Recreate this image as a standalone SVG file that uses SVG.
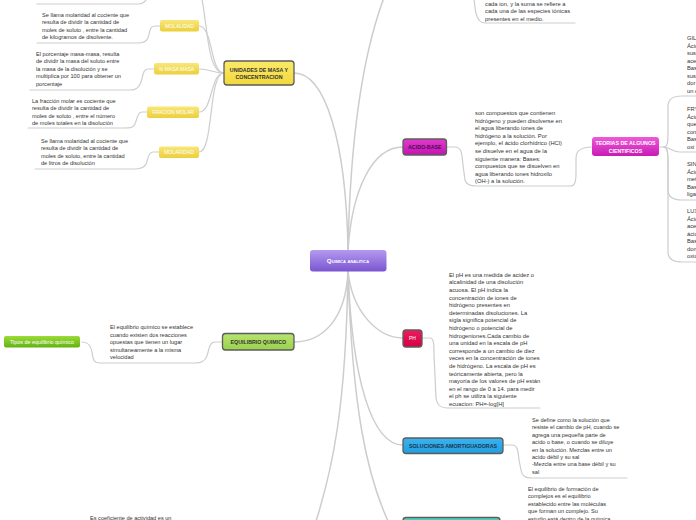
<svg xmlns="http://www.w3.org/2000/svg" width="696" height="520" viewBox="0 0 696 520">
<defs>
<linearGradient id="gPurple" x1="0" y1="0" x2="0" y2="1"><stop offset="0" stop-color="#b49af0"/><stop offset="1" stop-color="#7a55d0"/></linearGradient>
<linearGradient id="gYellow" x1="0" y1="0" x2="0" y2="1"><stop offset="0" stop-color="#fbea6a"/><stop offset="1" stop-color="#f2d83a"/></linearGradient>
<linearGradient id="gYellowSub" x1="0" y1="0" x2="0" y2="1"><stop offset="0" stop-color="#f8e77a"/><stop offset="1" stop-color="#eccf3a"/></linearGradient>
<linearGradient id="gGreen" x1="0" y1="0" x2="0" y2="1"><stop offset="0" stop-color="#b8e370"/><stop offset="1" stop-color="#9ad24c"/></linearGradient>
<linearGradient id="gGreenSub" x1="0" y1="0" x2="0" y2="1"><stop offset="0" stop-color="#9bdc38"/><stop offset="1" stop-color="#62b212"/></linearGradient>
<linearGradient id="gMagenta" x1="0" y1="0" x2="0" y2="1"><stop offset="0" stop-color="#e23acb"/><stop offset="1" stop-color="#c313b0"/></linearGradient>
<linearGradient id="gMagentaSub" x1="0" y1="0" x2="0" y2="1"><stop offset="0" stop-color="#ee5ad8"/><stop offset="1" stop-color="#c81bb4"/></linearGradient>
<linearGradient id="gRed" x1="0" y1="0" x2="0" y2="1"><stop offset="0" stop-color="#ee1c5c"/><stop offset="1" stop-color="#d30046"/></linearGradient>
<linearGradient id="gBlue" x1="0" y1="0" x2="0" y2="1"><stop offset="0" stop-color="#3bb4ee"/><stop offset="1" stop-color="#1f9ee0"/></linearGradient>
<linearGradient id="gTeal" x1="0" y1="0" x2="0" y2="1"><stop offset="0" stop-color="#4fd6c0"/><stop offset="1" stop-color="#2fbea8"/></linearGradient>
</defs>
<style>
.c{fill:none;stroke:#cdcdcd;stroke-width:1.2;stroke-linecap:round}
.cm{fill:none;stroke:#cdcdcd;stroke-width:1.5;stroke-linecap:round}
.main{stroke:#5c5c5c;stroke-width:1.3}
.t{font-family:"Liberation Sans",Arial,sans-serif;font-size:5.6px;fill:#333}
.tr{font-family:"Liberation Sans",Arial,sans-serif;font-size:5.8px;fill:#333}
.nb{font-family:"Liberation Sans",Arial,sans-serif;font-size:5.3px;font-weight:bold;text-anchor:middle}
.ns{font-family:"Liberation Sans",Arial,sans-serif;font-size:5px;fill:#fff;text-anchor:middle}
</style>
<rect width="696" height="520" fill="#fff"/>
<g id="connectors">
<!-- from center -->
<path class="cm" d="M348,250 C346,140 325,73 294,73"/>
<path class="cm" d="M348,250 C350,150 360,60 385,-5"/>
<path class="cm" d="M348,250 C352,190 372,147 403,147"/>
<path class="cm" d="M348,271 C346,320 322,342 294,342"/>
<path class="cm" d="M348,271 C352,312 378,338 403,338"/>
<path class="cm" d="M348,271 C352,380 372,445 403,445"/>
<path class="cm" d="M348,271 C352,400 365,480 395,535"/>
<path class="cm" d="M348,271 C346,400 335,470 308,545"/>
<!-- unidades bundle -->
<path class="c" d="M224,73 C210,73 213,26 199,26"/>
<path class="c" d="M224,73 C206,73 208,20 200,-10"/>
<path class="c" d="M224,73 C212,73 211,69 199,69"/>
<path class="c" d="M224,73 C210,73 213,112 199,112"/>
<path class="c" d="M224,73 C208,73 214,152 199,152"/>
<!-- left text underlines -->
<path class="c" d="M37,4 L138,4 C143,4 146,2 148,-4"/>
<path class="c" d="M160,26 L155,26 C149,26 150,33 148,38 C146,42 143,43 138,43 L37,43"/>
<path class="c" d="M154,69 L148,69 C143,69 143,76 141,82 C139,88 136,90 130,90 L30,90"/>
<path class="c" d="M147,112 L142,112 C137,112 137,120 135,124 C133,128 130,128 124,128 L28,128"/>
<path class="c" d="M159,152 L153,152 C148,152 148,160 146,164 C144,168 140,169 134,169 L35,169"/>
<path class="c" d="M222,342 L215,342 C209,342 209,350 207,356 C205,361 202,363 195,363 L100,363 C94,363 93,360 92,352 C91,345 88,342 82,342"/>
<!-- right side -->
<path class="c" d="M474,-2 C475,10 476,23 485,23 L575,23"/>
<path class="c" d="M446,147 L455,147 C462,147 462,155 463,165 L465,180 C466,184 469,186 476,186 L570,186 C575,186 576,182 576,172 L576,158 C576,150 582,147 592,147"/>
<path class="c" d="M659,147 L664,147 C668,147 668,140 668,130 L668,106 C668,99 673,96 682,96 L700,96"/>
<path class="c" d="M664,147 C669,147 672,152 680,152 L700,152"/>
<path class="c" d="M664,147 C668,147 668,155 668,165 L668,190 C668,197 673,200 682,200 L700,200"/>
<path class="c" d="M664,147 C668,147 668,155 668,170 L668,252 C668,259 673,262 682,262 L700,262"/>
<path class="c" d="M422,338 L430,338 C434,338 434,345 434,355 L436,398 C437,405 440,408 447,408 L540,408"/>
<path class="c" d="M503,445 L512,445 C518,445 518,452 519,460 L521,470 C522,476 525,478 532,478 L627,478"/>
</g>

<g id="center">
<rect x="310" y="250" width="76.5" height="21.5" rx="3" fill="url(#gPurple)"/>
<text x="348" y="263.3" font-family="'Liberation Sans',Arial,sans-serif" font-size="6.2" font-weight="bold" fill="#fff" text-anchor="middle" style="font-variant:small-caps">Quimica analitica</text>
</g>

<g id="unidades">
<rect class="main" x="224" y="61" width="70" height="24" rx="3" fill="url(#gYellow)"/>
<text class="nb" x="259" y="71.5" fill="#333">UNIDADES DE MASA Y</text>
<text class="nb" x="259" y="78.8" fill="#333">CONCENTRACION</text>
</g>

<g id="molalidad">
<rect x="160" y="20" width="39" height="11.5" rx="2" fill="url(#gYellowSub)"/>
<text class="ns" x="179.5" y="27.6">MOLALIDAD</text>
<text class="t" x="42" y="16.5">Se llama molaridad al cociente que</text>
<text class="t" x="42" y="24">resulta de dividir la cantidad de</text>
<text class="t" x="42" y="31.5">moles de soluto , entre la cantidad</text>
<text class="t" x="42" y="39">de kilogramos de disolvente.</text>
</g>

<g id="masamasa">
<rect x="154" y="63" width="45" height="11.5" rx="2" fill="url(#gYellowSub)"/>
<text class="ns" x="176.5" y="70.6">% MASA MASA</text>
<text class="t" x="36" y="55.5">El porcentaje masa-masa, resulta</text>
<text class="t" x="36" y="63">de  dividir la masa del soluto entre</text>
<text class="t" x="36" y="70.5">la masa de la disolución y se</text>
<text class="t" x="36" y="78">multiplica por 100 para obtener un</text>
<text class="t" x="36" y="85.5">porcentaje</text>
</g>

<g id="fraccion">
<rect x="147" y="106.5" width="52" height="11.5" rx="2" fill="url(#gYellowSub)"/>
<text class="ns" x="173" y="114.1">FRACION MOLAR</text>
<text class="t" x="32" y="102.5">La fracción molar es cociente que</text>
<text class="t" x="32" y="110">resulta de dividir la cantidad de</text>
<text class="t" x="32" y="117.5">moles de soluto , entre el número</text>
<text class="t" x="32" y="125">de moles totales en la disolución</text>
</g>

<g id="molaridad">
<rect x="159" y="146.5" width="40" height="11.5" rx="2" fill="url(#gYellowSub)"/>
<text class="ns" x="179" y="154.1">MOLARIDAD</text>
<text class="t" x="41" y="142.5">Se llama molaridad al cociente que</text>
<text class="t" x="41" y="150">resulta de dividir la cantidad de</text>
<text class="t" x="41" y="157.5">moles de soluto, entre la cantidad</text>
<text class="t" x="41" y="165">de litros de disolución</text>
</g>

<g id="equilibrio">
<rect class="main" x="222.5" y="333.5" width="71.5" height="16.5" rx="3" fill="url(#gGreen)"/>
<text class="nb" x="258.3" y="343.8" fill="#333">EQUILIBRIO QUIMICO</text>
<text class="t" x="110" y="329">El equilibrio químico se establece</text>
<text class="t" x="110" y="336.5">cuando existen dos reacciones</text>
<text class="t" x="110" y="344">opuestas que tienen un lugar</text>
<text class="t" x="110" y="351.5">simultaneamente a la misma</text>
<text class="t" x="110" y="359">velocidad</text>
</g>

<g id="tipos">
<rect x="4" y="336" width="76" height="11.5" rx="2" fill="url(#gGreenSub)"/>
<text x="42" y="343.8" font-family="'Liberation Sans',Arial,sans-serif" font-size="5.4" fill="#fff" text-anchor="middle">Tipos de equilibrio químico</text>
</g>

<g id="toptext">
<text class="tr" x="485" y="6">cada ion, y la suma se refiere a</text>
<text class="tr" x="485" y="13.3">cada una de las especies iónicas</text>
<text class="tr" x="485" y="20.6">presentes en el medio.</text>
</g>

<g id="acidobase">
<rect class="main" x="403" y="139" width="43.5" height="16" rx="3" fill="url(#gMagenta)"/>
<text class="nb" x="424.8" y="149" fill="#4a0e52">ACIDO-BASE</text>
<text class="tr" x="475" y="115">son compuestos que contienen</text>
<text class="tr" x="475" y="122.6">hidrógeno y pueden disolverse en</text>
<text class="tr" x="475" y="130.2">el agua liberando iones de</text>
<text class="tr" x="475" y="137.8">hidrógeno a la solución. Por</text>
<text class="tr" x="475" y="145.4">ejemplo, el ácido clorhídrico (HCl)</text>
<text class="tr" x="475" y="153">se disuelve en el agua de la</text>
<text class="tr" x="475" y="160.6">siguiente manera: Bases:</text>
<text class="tr" x="475" y="168.2">compuestos que se disuelven en</text>
<text class="tr" x="475" y="175.8">agua liberando iones hidroxilo</text>
<text class="tr" x="475" y="183.4">(OH-) a la solución.</text>
</g>

<g id="teorias">
<rect x="592" y="137" width="67" height="19" rx="3" fill="url(#gMagentaSub)"/>
<text class="nb" x="625.5" y="145" fill="#fff">TEORIAS DE ALGUNOS</text>
<text class="nb" x="625.5" y="152.5" fill="#fff">CIENTIFICOS</text>
<text class="tr" x="687" y="40">GIL</text>
<text class="tr" x="687" y="47.5">Ácid</text>
<text class="tr" x="687" y="55">sus</text>
<text class="tr" x="687" y="62.5">ace</text>
<text class="tr" x="687" y="70">Bas</text>
<text class="tr" x="687" y="77.5">sus</text>
<text class="tr" x="687" y="85">dor</text>
<text class="tr" x="687" y="92.5">un e</text>
<text class="tr" x="687" y="111">FRY</text>
<text class="tr" x="687" y="118.5">Ácid</text>
<text class="tr" x="687" y="126">que</text>
<text class="tr" x="687" y="133.5">con</text>
<text class="tr" x="687" y="141">Bas</text>
<text class="tr" x="687" y="148.5">oxi</text>
<text class="tr" x="687" y="166">SIN</text>
<text class="tr" x="687" y="173.5">Ácid</text>
<text class="tr" x="687" y="181">met</text>
<text class="tr" x="687" y="188.5">Bas</text>
<text class="tr" x="687" y="196">liga</text>
<text class="tr" x="687" y="213">LUX</text>
<text class="tr" x="687" y="220.5">Ácid</text>
<text class="tr" x="687" y="228">ace</text>
<text class="tr" x="687" y="235.5">ácid</text>
<text class="tr" x="687" y="243">Bas</text>
<text class="tr" x="687" y="250.5">don</text>
<text class="tr" x="687" y="258">oxid</text>
</g>

<g id="ph">
<rect class="main" x="403" y="330" width="19" height="17" rx="3" fill="url(#gRed)"/>
<text class="ns" x="412.5" y="340.3" fill="#ffd0dc">PH</text>
<text class="tr" x="449" y="276.8">El pH es una medida de acidez o</text>
<text class="tr" x="449" y="284.4">alcalinidad de una disolución</text>
<text class="tr" x="449" y="292">acuosa. El pH indica la</text>
<text class="tr" x="449" y="299.6">concentración de iones de</text>
<text class="tr" x="449" y="307.2">hidrógeno presentes en</text>
<text class="tr" x="449" y="314.8">determinadas disoluciones. La</text>
<text class="tr" x="449" y="322.4">sigla significa potencial de</text>
<text class="tr" x="449" y="330">hidrógeno o potencial de</text>
<text class="tr" x="449" y="337.6">hidrogeniones.Cada cambio de</text>
<text class="tr" x="449" y="345.2">una unidad en la escala de pH</text>
<text class="tr" x="449" y="352.8">corresponde a un cambio de diez</text>
<text class="tr" x="449" y="360.4">veces en la concentración de iones</text>
<text class="tr" x="449" y="368">de hidrógeno. La escala de pH es</text>
<text class="tr" x="449" y="375.6">teóricamente abierta, pero la</text>
<text class="tr" x="449" y="383.2">mayoría de los valores de pH están</text>
<text class="tr" x="449" y="390.8">en el rango de 0 a 14. para medir</text>
<text class="tr" x="449" y="398.4">el ph se utiliza la siguiente</text>
<text class="tr" x="449" y="406">ecuacion: PH=-log[H]</text>
</g>

<g id="soluciones">
<rect class="main" x="403" y="438" width="100" height="15.5" rx="3" fill="url(#gBlue)"/>
<text class="nb" x="453" y="447.8" fill="#1c3550">SOLUCIONES AMORTIGUADORAS</text>
<text class="t" x="532" y="422">Se define como la solución que</text>
<text class="t" x="532" y="429.4">resiste el cambio de pH, cuando se</text>
<text class="t" x="532" y="436.8">agrega una pequeña parte de</text>
<text class="t" x="532" y="444.2">acido o base, o cuando se diluye</text>
<text class="t" x="532" y="451.6">en la solución. Mezclas entre un</text>
<text class="t" x="532" y="459">acido débil y su sal</text>
<text class="t" x="532" y="466.4"> -Mezcla entre una base débil y su</text>
<text class="t" x="532" y="473.8">sal</text>
</g>

<g id="complejos">
<rect class="main" x="403" y="517.5" width="97" height="16" rx="3" fill="url(#gTeal)"/>
<text class="t" x="528" y="491">El equilibrio de formación de</text>
<text class="t" x="528" y="498.4">complejos es el equilibrio</text>
<text class="t" x="528" y="505.8">establecido entre las moléculas</text>
<text class="t" x="528" y="513.2">que forman un complejo. Su</text>
<text class="t" x="528" y="520.6">estudio está dentro de la química</text>
</g>

<g id="actividad">
<text class="t" x="90" y="520">Es coeficiente de actividad es un</text>
</g>
</svg>
